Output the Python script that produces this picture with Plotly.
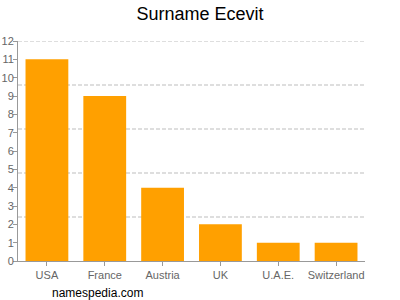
import plotly.graph_objects as go

categories = ["USA", "France", "Austria", "UK", "U.A.E.", "Switzerland"]
values = [11, 9, 4, 2, 1, 1]
y_ticks = list(range(0, 13))
grid_vals = [2.4, 4.8, 7.2, 9.6, 12]
title_text = "Surname Ecevit"
footer_text = "namespedia.com"

fig = go.Figure(go.Bar(x=categories, y=values, marker=dict(color="#FFA000", line=dict(width=0))))

grid_shapes = [dict(type="line", xref="paper", yref="y", x0=0, x1=1, y0=g, y1=g,
                    line=dict(color="#bdbdbd", width=1, dash="4px,2px"), layer="below")
               for g in grid_vals]

fig.update_layout(
    width=400, height=300,
    margin=dict(l=18, r=35, t=41, b=39),
    plot_bgcolor="white", paper_bgcolor="white",
    bargap=0.26,
    showlegend=False,
    font=dict(family="Liberation Sans, Arial, sans-serif", color="#666666", size=11),
    title=dict(text=title_text, x=0.5, xanchor="center", y=0.955, yanchor="middle",
               font=dict(size=18, color="#000000")),
    annotations=[dict(text=footer_text, xref="paper", yref="paper", x=0.23, y=-0.105,
                      xanchor="center", yanchor="top", showarrow=False,
                      font=dict(size=12, color="#000000"))],
    shapes=grid_shapes,
    yaxis=dict(range=[0, 12], tickvals=y_ticks, showline=True,
               linecolor="#999999", linewidth=1, ticks="outside", ticklen=4,
               tickcolor="#999999", showgrid=False, zeroline=False, automargin=False,
               ticklabelstandoff=-3,
               tickfont=dict(size=11, color="#666666")),
)
fig.update_xaxes(showline=True, linecolor="#999999", linewidth=1, ticks="outside",
                 ticklen=4, tickcolor="#999999", showgrid=False, automargin=False,
                 tickfont=dict(size=11, color="#666666"))

fig.write_html("out.html")
